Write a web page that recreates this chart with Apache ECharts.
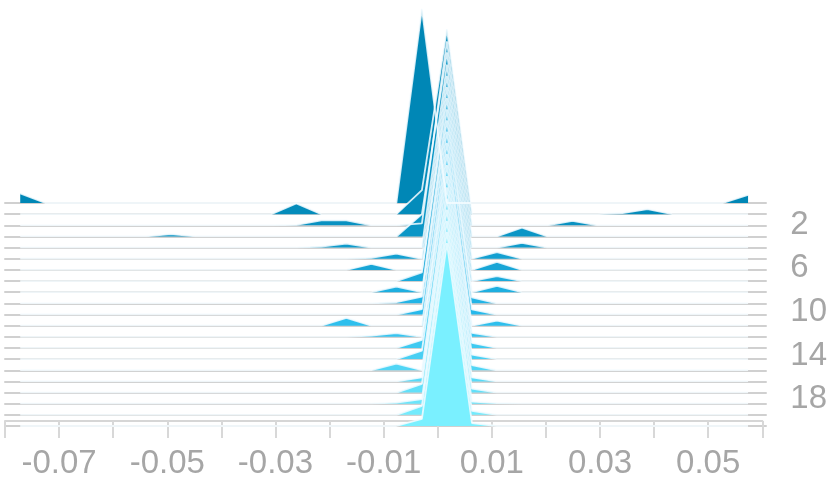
<!DOCTYPE html>
<html>
<head>
<meta charset="utf-8">
<script src="https://cdn.jsdelivr.net/npm/echarts@6/dist/echarts.min.js"></script>
<style>
  html, body { margin: 0; padding: 0; background: #fff; }
  #chart { width: 830px; height: 480px; }
</style>
</head>
<body>
<div id="chart"></div>
<script>
// bin centres shared by every ridge
const bins = [
  -0.0772, -0.0726, -0.0680, -0.0634, -0.0587, -0.0541, -0.0495, -0.0449, -0.0403, -0.0357,
  -0.0310, -0.0264, -0.0218, -0.0172, -0.0126, -0.0080, -0.0033, 0.0013, 0.0059, 0.0105,
  0.0151, 0.0198, 0.0244, 0.0290, 0.0336, 0.0382, 0.0428, 0.0475, 0.0521, 0.0567
];

// one row per ridge (0 = top), heights in row-spacing units
const density = [
  [0.85,0,0,0,0,0,0,0,0,0, 0,0,0,0,0,0,17.4,0,0,0, 0,0,0,0,0,0,0,0,0,0.72],
  [0,0,0,0,0,0,0,0,0,0, 0,0.96,0,0,0,0,2.15,16.6,0,0, 0,0,0,0,0.09,0.45,0,0,0,0],
  [0,0,0,0,0,0,0,0,0,0, 0,0.03,0.45,0.45,0,0,0.18,16.5,0,0, 0,0,0.39,0,0,0,0,0,0,0],
  [0,0,0,0,0,0,0.2,0,0,0, 0,0,0,0,0,0,2.0,16.5,0,0, 0.78,0,0,0,0,0,0,0,0,0],
  [0,0,0,0,0,0,0,0,0,0, 0,0,0.09,0.36,0,0,0,16.4,0,0, 0.42,0,0,0,0,0,0,0,0,0],
  [0,0,0,0,0,0,0,0,0,0, 0,0,0,0,0.09,0.45,0,16.4,0,0.6, 0,0,0,0,0,0,0,0,0,0],
  [0,0,0,0,0,0,0,0,0,0, 0,0,0,0,0.54,0,0,16.4,0,0.72, 0,0,0,0,0,0,0,0,0,0],
  [0,0,0,0,0,0,0,0,0,0, 0,0,0,0,0,0,0.78,16.4,0,0.45, 0,0,0,0,0,0,0,0,0,0],
  [0,0,0,0,0,0,0,0,0,0, 0,0,0,0,0,0.51,0,16.4,0,0.57, 0,0,0,0,0,0,0,0,0,0],
  [0,0,0,0,0,0,0,0,0,0, 0,0,0,0,0,0.1,0.6,16.4,0.54,0, 0,0,0,0,0,0,0,0,0,0],
  [0,0,0,0,0,0,0,0,0,0, 0,0,0,0,0,0,0.48,16.4,0.45,0, 0,0,0,0,0,0,0,0,0,0],
  [0,0,0,0,0,0,0,0,0,0, 0,0,0,0.69,0,0,0,16.4,0,0.45, 0,0,0,0,0,0,0,0,0,0],
  [0,0,0,0,0,0,0,0,0,0, 0,0,0,0,0.1,0.33,0,16.4,0.36,0, 0,0,0,0,0,0,0,0,0,0],
  [0,0,0,0,0,0,0,0,0,0, 0,0,0,0,0,0,0.72,16.4,0.45,0, 0,0,0,0,0,0,0,0,0,0],
  [0,0,0,0,0,0,0,0,0,0, 0,0,0,0,0,0,0.75,16.4,0.4,0, 0,0,0,0,0,0,0,0,0,0],
  [0,0,0,0,0,0,0,0,0,0, 0,0,0,0,0,0.6,0,16.4,0.45,0, 0,0,0,0,0,0,0,0,0,0],
  [0,0,0,0,0,0,0,0,0,0, 0,0,0,0,0,0,0.36,16.4,0.36,0, 0,0,0,0,0,0,0,0,0,0],
  [0,0,0,0,0,0,0,0,0,0, 0,0,0,0,0,0,0.78,16.4,0.36,0, 0,0,0,0,0,0,0,0,0,0],
  [0,0,0,0,0,0,0,0,0,0, 0,0,0,0,0,0.1,0.42,16.4,0.18,0.05, 0,0,0,0,0,0,0,0,0,0],
  [0,0,0,0,0,0,0,0,0,0, 0,0,0,0,0,0,0.81,16.4,0.36,0, 0,0,0,0,0,0,0,0,0,0],
  [0,0,0,0,0,0,0,0,0,0, 0,0,0,0,0,0,0.63,16.4,0.27,0, 0,0,0,0,0,0,0,0,0,0]
];

const xTicks = { min: -0.08, max: 0.06, step: 0.01 };
const yTicks = { min: 0, max: 20, step: 2 };

// layout of the ridge stack
const LEFT = 5, RIGHT = 64, TOP = 203, BOTTOM_Y = 426;
const rowGap = (BOTTOM_Y - TOP) / 20;
const RIDGE_MAX = 18;            // ridge y-axis top, in row units
const ridgeH = rowGap * RIDGE_MAX;

// dark blue at the back to bright cyan at the front
const stops = [[0, 135, 182], [38, 185, 235], [122, 240, 255]];
function rowColor(i) {
  const t = i / (density.length - 1) * 2;
  const a = stops[Math.min(1, Math.floor(t))], b = stops[Math.min(2, Math.floor(t) + 1)];
  const f = t - Math.min(1, Math.floor(t));
  const c = a.map((v, j) => Math.round(v + (b[j] - v) * f));
  return 'rgb(' + c.join(',') + ')';
}

const grid = [], xAxis = [], yAxis = [], series = [];

density.forEach((row, i) => {
  const base = TOP + rowGap * i;
  grid.push({ left: LEFT, right: RIGHT, top: base - ridgeH, height: ridgeH });
  xAxis.push({
    type: 'value', gridIndex: i, min: xTicks.min, max: xTicks.max,
    axisLine: { show: true, lineStyle: { color: '#d0d0d0', width: 2 } },
    axisTick: { show: false }, axisLabel: { show: false }, splitLine: { show: false }
  });
  yAxis.push({ type: 'value', gridIndex: i, min: 0, max: RIDGE_MAX, show: false });
  series.push({
    type: 'line',
    xAxisIndex: i,
    yAxisIndex: i,
    data: bins.map((b, k) => [b, row[k]]),
    symbol: 'none',
    silent: true,
    lineStyle: { color: '#f4fbff', width: 1.8, opacity: 0.85 },
    areaStyle: { color: rowColor(i), opacity: 1 }
  });
});

// axes that carry the ticks and labels
const main = density.length;
grid.push({ left: LEFT, right: RIGHT, top: TOP, bottom: 480 - BOTTOM_Y });
xAxis.push({
  type: 'value', gridIndex: main, position: 'bottom',
  min: xTicks.min, max: xTicks.max, interval: xTicks.step,
  axisLine: { show: true, onZero: false, lineStyle: { color: '#d6d6d6', width: 2 } },
  axisTick: { show: true, length: 17, lineStyle: { color: '#d8d8d8', width: 2 } },
  axisLabel: {
    color: '#a6a6a6', fontSize: 33, fontFamily: 'Liberation Sans', margin: 26,
    formatter: v => {
      const n = Math.round(v * 100);
      return Math.abs(n) % 2 === 1 ? (n / 100).toFixed(2) : '';
    }
  },
  splitLine: { show: false }
});
yAxis.push({
  type: 'value', gridIndex: main, position: 'right', inverse: true,
  min: yTicks.min, max: yTicks.max, interval: yTicks.step,
  axisLine: { show: false },
  axisTick: { show: true, length: 18, lineStyle: { color: '#d8d8d8', width: 2 } },
  axisLabel: {
    color: '#a6a6a6', fontSize: 33, fontFamily: 'Liberation Sans', margin: 28,
    formatter: v => (v % 4 === 2 ? String(v) : '')
  },
  splitLine: { show: false }
});

const chart = echarts.init(document.getElementById('chart'));
chart.setOption({
  animation: false,
  grid: grid,
  xAxis: xAxis,
  yAxis: yAxis,
  series: series
});
</script>
</body>
</html>
